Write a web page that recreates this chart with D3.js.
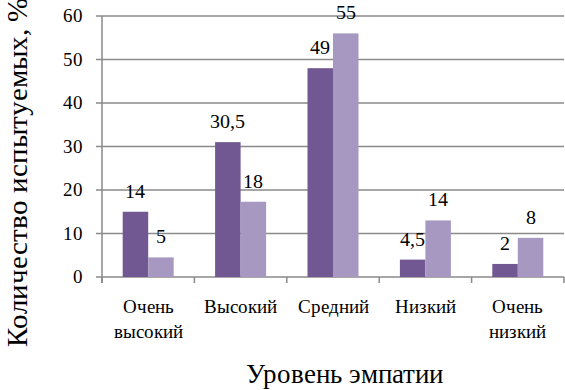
<!DOCTYPE html>
<html>
<head>
<meta charset="utf-8">
<script src="https://cdn.jsdelivr.net/npm/d3@7"></script>
<style>
  @font-face { font-family: "ChartSerif"; src: local("Liberation Serif"), local("LiberationSerif"), local("Tinos"), local("FreeSerif"); }
  body { margin: 0; background: #fff; }
  svg text { font-family: "ChartSerif", "Liberation Serif", "Tinos", "FreeSerif" !important; }
</style>
</head>
<body>
<script>
const categories = [["Очень", "высокий"], ["Высокий"], ["Средний"], ["Низкий"], ["Очень", "низкий"]];
const seriesA = [15, 31, 48, 4, 3];          // bar heights as drawn
const seriesB = [4.5, 17.3, 56, 13, 9];
const labelsA = ["14", "30,5", "49", "4,5", "2"]; // printed labels
const labelsB = ["5", "18", "55", "14", "8"];
const yTicks = [0, 10, 20, 30, 40, 50, 60];

const width = 565, height = 390;
const margin = {left: 102, right: 1, top: 16, bottom: 113};
const FONT = "'Liberation Serif'";

const svg = d3.select("body").append("svg")
    .attr("width", width)
    .attr("height", height);

const x = d3.scaleBand()
    .domain(d3.range(categories.length))
    .range([margin.left, width - margin.right]);

const y = d3.scaleLinear()
    .domain([0, 60])
    .range([height - margin.bottom, margin.top]);

const barW = 25.5;
const colorA = "#715893", colorB = "#a798c1";

// gridlines
svg.selectAll("line.grid")
    .data(yTicks)
    .enter().append("line")
    .attr("x1", margin.left - 6)
    .attr("x2", width - margin.right)
    .attr("y1", d => y(d))
    .attr("y2", d => y(d))
    .attr("stroke", "#8a8a8a")
    .attr("stroke-width", 1.5);

// y axis line
svg.append("line")
    .attr("x1", margin.left).attr("x2", margin.left)
    .attr("y1", y(60)).attr("y2", y(0) + 6)
    .attr("stroke", "#8a8a8a").attr("stroke-width", 1.5);

// x tick marks on boundaries
svg.selectAll("line.xt")
    .data(d3.range(categories.length + 1))
    .enter().append("line")
    .attr("x1", i => margin.left + i * x.bandwidth())
    .attr("x2", i => margin.left + i * x.bandwidth())
    .attr("y1", y(0))
    .attr("y2", y(0) + 6)
    .attr("stroke", "#8a8a8a").attr("stroke-width", 1.5);

// y tick labels
svg.selectAll("text.yl")
    .data(yTicks)
    .enter().append("text")
    .attr("x", 83)
    .attr("y", d => y(d) + 6)
    .attr("text-anchor", "end")
    .attr("font-family", FONT)
    .attr("font-size", 19)
    .text(d => d);

// bars
const groups = svg.selectAll("g.cat")
    .data(categories.map((c, i) => i))
    .enter().append("g");

groups.append("rect")
    .attr("x", i => x(i) + x.bandwidth() / 2 - barW)
    .attr("y", i => y(seriesA[i]))
    .attr("width", barW)
    .attr("height", i => y(0) - y(seriesA[i]))
    .attr("fill", colorA);

groups.append("rect")
    .attr("x", i => x(i) + x.bandwidth() / 2)
    .attr("y", i => y(seriesB[i]))
    .attr("width", barW)
    .attr("height", i => y(0) - y(seriesB[i]))
    .attr("fill", colorB);

groups.append("text")
    .attr("x", i => x(i) + x.bandwidth() / 2 - barW / 2)
    .attr("y", i => y(seriesA[i]) - 14)
    .attr("text-anchor", "middle")
    .attr("font-family", FONT)
    .attr("font-size", 20)
    .text(i => labelsA[i]);

groups.append("text")
    .attr("x", i => x(i) + x.bandwidth() / 2 + barW / 2)
    .attr("y", i => y(seriesB[i]) - 14)
    .attr("text-anchor", "middle")
    .attr("font-family", FONT)
    .attr("font-size", 20)
    .text(i => labelsB[i]);

// category labels
groups.each(function(i) {
    const t = d3.select(this).append("text")
        .attr("text-anchor", "middle")
        .attr("font-family", FONT)
        .attr("font-size", 19);
    categories[i].forEach((line, k) => {
        t.append("tspan")
            .attr("x", x(i) + x.bandwidth() / 2)
            .attr("y", 313 + k * 25)
            .text(line);
    });
});

// axis titles
svg.append("text")
    .attr("x", 344)
    .attr("y", 383)
    .attr("text-anchor", "middle")
    .attr("font-family", FONT)
    .attr("font-size", 27)
    .text("Уровень эмпатии");

svg.append("text")
    .attr("transform", "translate(27,347) rotate(-90)")
    .attr("text-anchor", "start")
    .attr("font-family", FONT)
    .attr("font-size", 29)
    .text("Количество испытуемых, %");
</script>
</body>
</html>
